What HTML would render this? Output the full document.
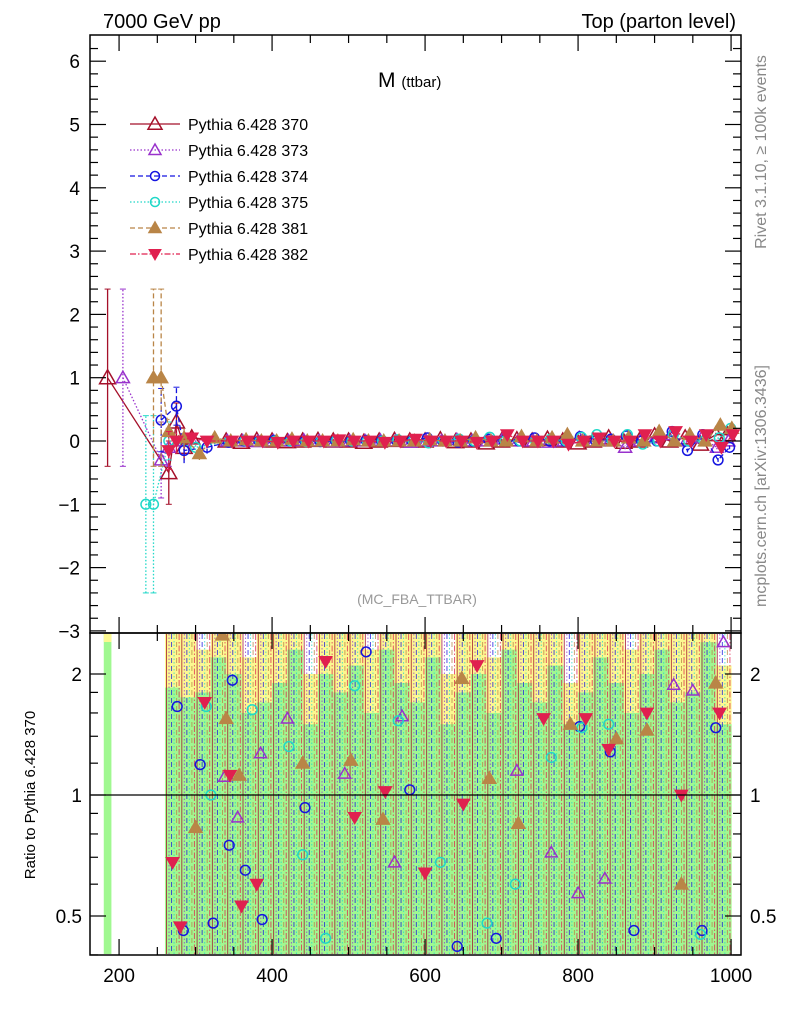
<!DOCTYPE html>
<html><head><meta charset="utf-8"><style>
body{margin:0;background:#fff;}
svg{display:block;font-family:"Liberation Sans",sans-serif;}
</style></head><body>
<svg id="chart" width="786" height="1024" viewBox="0 0 786 1024">
<defs>
<clipPath id="cm"><rect x="91" y="36" width="649" height="596"/></clipPath>
<clipPath id="cr"><rect x="91" y="634" width="649" height="320"/></clipPath>
</defs>
<g id="bands" clip-path="url(#cr)"></g>
<g id="rlines" clip-path="url(#cr)"></g>
<g id="rmarks" clip-path="url(#cr)"></g>
<g id="mmarks" clip-path="url(#cm)"></g>
<line x1="91" y1="795" x2="740" y2="795" stroke="#000" stroke-width="1.2"/>
<rect x="90" y="35" width="651" height="598" fill="none" stroke="#000" stroke-width="1.5"/>
<rect x="90" y="633" width="651" height="322" fill="none" stroke="#000" stroke-width="1.5"/>
<g id="axes"></g>
<text x="103" y="28" font-size="20">7000 GeV pp</text>
<text x="736" y="28" font-size="20" text-anchor="end">Top (parton level)</text>
<text x="378" y="87" font-size="21">M <tspan font-size="15">(ttbar)</tspan></text>
<text x="417" y="604" font-size="14" fill="#999" text-anchor="middle">(MC_FBA_TTBAR)</text>
<text transform="translate(766,152) rotate(-90)" font-size="16" fill="#888" text-anchor="middle">Rivet 3.1.10, ≥ 100k events</text>
<text transform="translate(766,486) rotate(-90)" font-size="16" fill="#888" text-anchor="middle">mcplots.cern.ch [arXiv:1306.3436]</text>
<text transform="translate(35,795) rotate(-90)" font-size="15" text-anchor="middle">Ratio to Pythia 6.428 370</text>
<g id="legend"></g>
</svg>
<script>
const NS="http://www.w3.org/2000/svg";
// ---- data ----
const seriesNames=["Pythia 6.428 370","Pythia 6.428 373","Pythia 6.428 374","Pythia 6.428 375","Pythia 6.428 381","Pythia 6.428 382"];
const earlyX370=[185,265,275,285,295];
const earlyY370=[1.0,-0.5,0.3,-0.1,0.05];
const earlyE370=[1.4,0.5,0.3,0.2,0.1];
const earlyX373=[205,255,265,285];
const earlyY373=[1.0,-0.3,-0.1,0.0];
const earlyE373=[1.4,0.6,0.3,0.2];
const earlyX374=[255,275,285,315];
const earlyY374=[0.33,0.55,-0.15,-0.1];
const earlyE374=[0.5,0.3,0.2,0.1];
const earlyX375=[235,245,265,300];
const earlyY375=[-1.0,-1.0,0.0,-0.1];
const earlyE375=[1.4,1.4,0.3,0.1];
const earlyX381=[245,255,265,285,305,325];
const earlyY381=[1.0,1.0,0.15,0.05,-0.2,0.05];
const earlyE381=[1.4,1.4,0.2,0.15,0.1,0.05];
const earlyX382=[265,275,295,315];
const earlyY382=[-0.15,0.0,0.05,0.0];
const earlyE382=[0.3,0.2,0.1,0.05];
const flatX=[340,360,380,400,420,440,460,480,500,520,540,560,580,600,620,640,660,680,700,720,740,760,780,800,820,840,860,880,900,920,940,960,980,995];
const flat370=[0.0,-0.02,0.01,0.0,-0.01,0.0,0.01,0.0,0.0,-0.02,0.0,0.01,0.0,0.0,0.02,-0.01,0.0,-0.03,0.0,0.02,0.0,0.03,0.0,-0.03,0.0,0.05,-0.02,0.0,0.08,0.0,0.05,-0.05,0.1,0.1];
const flat373=[0.0,0.0,-0.01,0.0,0.0,0.01,0.0,-0.01,0.0,0.0,0.01,0.0,-0.02,0.0,0.0,0.02,0.0,0.0,0.03,0.0,0.0,-0.02,0.0,0.05,0.0,0.0,-0.1,0.0,0.05,0.1,0.0,0.05,-0.1,0.0];
const flat374=[-0.02,0.0,0.0,0.01,0.0,0.0,-0.01,0.0,0.0,0.01,0.0,0.0,0.0,0.05,0.0,-0.02,0.0,0.03,0.0,0.0,0.05,0.0,0.0,0.07,0.0,0.03,0.08,0.0,0.0,0.15,-0.15,0.1,-0.3,-0.1];
const flat375=[0.0,0.01,0.0,0.0,0.0,-0.01,0.0,0.01,0.0,0.0,0.0,0.02,0.0,-0.03,0.0,0.03,0.0,0.06,0.0,0.0,0.0,0.03,0.0,0.06,0.1,0.0,0.1,-0.05,0.0,0.1,0.0,0.0,0.05,0.2];
const flat381=[0.0,0.02,0.0,0.0,0.03,0.0,0.0,0.0,0.02,0.0,0.0,0.0,0.0,0.02,0.0,0.0,0.05,0.0,0.0,0.07,0.0,0.05,0.1,0.0,0.0,0.0,0.05,0.0,0.15,0.0,0.1,0.0,0.25,0.2];
const flat382=[0.0,0.0,0.0,-0.02,0.0,0.0,0.0,0.02,0.0,0.0,-0.02,0.0,0.03,0.0,0.0,0.0,-0.02,0.0,0.1,0.0,0.0,0.0,-0.05,0.0,0.05,0.0,0.0,0.1,0.0,0.15,0.0,0.1,-0.1,0.1];
// ratio markers
const rX373=[338,355,385,420,495,560,570,720,765,800,835,925,950,990];
const rV373=[1.11,0.88,1.27,1.55,1.13,0.68,1.57,1.15,0.72,0.57,0.62,1.88,1.82,2.4];
const rX374=[276,284,306,323,344,348,365,387,443,523,580,642,693,802,842,873,962,980];
const rV374=[1.66,0.46,1.19,0.48,0.75,1.93,0.65,0.49,0.93,2.27,1.03,0.42,0.44,1.48,1.28,0.46,0.46,1.47];
const rX375=[314,320,374,422,440,470,508,565,620,681,718,765,805,840,960];
const rV375=[1.66,1.0,1.63,1.32,0.71,0.44,1.87,1.53,0.68,0.48,0.6,1.24,1.47,1.5,0.45];
const rX381=[300,335,357,340,440,503,545,648,684,722,790,850,890,935,980];
const rV381=[0.83,2.5,1.12,1.55,1.2,1.22,0.87,1.95,1.1,0.85,1.5,1.38,1.45,0.6,1.9];
const rX382=[270,280,312,345,360,380,470,508,548,600,650,668,755,810,840,890,935,985];
const rV382=[0.68,0.47,1.7,1.12,0.53,0.6,2.15,0.88,1.02,0.64,0.95,2.1,1.55,1.55,1.3,1.6,1.0,1.6];
// ratio band (reference uncertainty), 20 GeV bins starting 260
const bandStart=260;
const greenTop=[1.85,1.75,1.8,2.2,2.0,1.6,1.7,1.9,2.3,1.5,2.0,1.8,2.1,1.6,2.3,1.9,1.7,2.2,1.5,1.8,2.0,1.6,2.3,1.9,1.7,2.1,1.5,1.8,2.2,1.9,1.6,2.0,2.3,1.7,1.8,2.4,1.5];
const yellowTop=[2.6,2.6,2.3,2.6,2.6,2.2,2.6,2.6,2.6,2.0,2.6,2.6,2.6,2.3,2.6,2.6,2.6,2.6,2.0,2.6,2.6,2.2,2.6,2.6,2.6,2.6,1.9,2.6,2.6,2.6,2.3,2.6,2.6,2.6,2.6,2.6,2.1];
// ---- scales ----
const X=v=>90+(v-162)*0.765;
const Y=v=>441-v*63.3;
const R=v=>795-121*Math.log2(v);
const col=["#a5102a","#9932cc","#1515e0","#20d8c8","#b98547","#e0204f"];
const dash=["","1.5,2","5,3","1.5,2","5,3","6,2,1.5,2"];
const mk=["otri","otri","ocirc","ocirc","ftri","fdtri"];
function el(t,a,p){const e=document.createElementNS(NS,t);for(const k in a)e.setAttribute(k,a[k]);p.appendChild(e);return e;}
function marker(g,type,x,y,c,s){
  if(type=="otri"||type=="ftri"){return el("polygon",{points:`${x},${y-s} ${x-s},${y+s*0.75} ${x+s},${y+s*0.75}`,fill:type=="ftri"?c:"none",stroke:c,"stroke-width":1.5},g);}
  if(type=="fdtri"){return el("polygon",{points:`${x},${y+s} ${x-s},${y-s*0.75} ${x+s},${y-s*0.75}`,fill:c,stroke:c,"stroke-width":1},g);}
  return el("circle",{cx:x,cy:y,r:s*0.75,fill:"none",stroke:c,"stroke-width":1.5},g);
}
// bands
const gb=document.getElementById("bands");
let b=el("rect",{x:X(180),y:634,width:X(190)-X(180),height:320,fill:"#a0f890"},gb);

for(let i=0;i<greenTop.length;i++){
  const x0=X(bandStart+20*i),w=X(bandStart+20*(i+1))-x0;
  let y=el("rect",{x:x0,y:R(yellowTop[i]),width:w+0.5,height:955-R(yellowTop[i]),fill:"#fcf890"},gb);
  
  let g=el("rect",{x:x0,y:R(greenTop[i]),width:w+0.5,height:955-R(greenTop[i]),fill:"#a0f890"},gb);
  
}
el("rect",{x:X(180),y:634,width:X(190)-X(180),height:8,fill:"#fcf890"},gb);
// ratio vertical lines
const gl=document.getElementById("rlines");
for(let s=0;s<6;s++){
  for(let v=262+s*3.3;v<1000;v+=20){
    let l=el("line",{x1:X(v),x2:X(v),y1:634,y2:955,stroke:col[s],"stroke-width":1,"stroke-dasharray":dash[s]||"none",opacity:0.75},gl);
    
  }
}
const gr=document.getElementById("rmarks");
const rx=[null,rX373,rX374,rX375,rX381,rX382],rv=[null,rV373,rV374,rV375,rV381,rV382];
for(let s=1;s<6;s++)for(let i=0;i<rx[s].length;i++){
  let m=marker(gr,mk[s],X(rx[s][i]),R(rv[s][i]),col[s],s==1?6:6.5);
  
}
// main
const gm=document.getElementById("mmarks");
const ex=[earlyX370,earlyX373,earlyX374,earlyX375,earlyX381,earlyX382];
const ey=[earlyY370,earlyY373,earlyY374,earlyY375,earlyY381,earlyY382];
const ee=[earlyE370,earlyE373,earlyE374,earlyE375,earlyE381,earlyE382];
const fl=[flat370,flat373,flat374,flat375,flat381,flat382];
for(let s=0;s<6;s++){
  const xs=ex[s].concat(flatX.map(v=>v+s*1.5)),ys=ey[s].concat(fl[s]),es=ee[s].concat(flatX.map(()=>0.03));
  let p=el("polyline",{points:xs.map((v,i)=>X(v)+","+Y(ys[i])).join(" "),fill:"none",stroke:col[s],"stroke-width":1.3,"stroke-dasharray":dash[s]||"none"},gm);
  
  for(let i=0;i<xs.length;i++){
    const x=X(xs[i]);
    let e=el("line",{x1:x,x2:x,y1:Y(ys[i]-es[i]),y2:Y(ys[i]+es[i]),stroke:col[s],"stroke-width":1.3,"stroke-dasharray":dash[s]||"none"},gm);
    
    if(es[i]>0.2){el("line",{x1:x-3,x2:x+3,y1:Y(ys[i]-es[i]),y2:Y(ys[i]-es[i]),stroke:col[s]},gm);el("line",{x1:x-3,x2:x+3,y1:Y(ys[i]+es[i]),y2:Y(ys[i]+es[i]),stroke:col[s]},gm);}
    let m=marker(gm,mk[s],x,Y(ys[i]),col[s],s==0?8:6.5);
    
  }
}
// legend
const lg=document.getElementById("legend");
for(let s=0;s<6;s++){
  const y=124+s*26;
  el("line",{x1:130,x2:180,y1:y,y2:y,stroke:col[s],"stroke-width":1.3,"stroke-dasharray":dash[s]||"none"},lg);
  marker(lg,mk[s],155,y,col[s],s==0?7:6);
  let t=el("text",{x:188,y:y+6,"font-size":16},lg);t.textContent=seriesNames[s];
  
}
// axes
const ga=document.getElementById("axes");
function ln(x1,y1,x2,y2){el("line",{x1,y1,x2,y2,stroke:"#000","stroke-width":1.2},ga);}
function tx(x,y,s,anchor){let t=el("text",{x,y,"font-size":19,"text-anchor":anchor},ga);t.textContent=s;return t;}
for(let v=-3;v<=6.4;v+=0.2){const y=Y(v);if(y<36||y>632)continue;const maj=Math.abs(v-Math.round(v))<1e-6;const L=maj?16:8;ln(90,y,90+L,y);ln(741,y,741-L,y);
  if(maj){tx(80,y+7,(Math.round(v)<0?"−":"")+Math.abs(Math.round(v)),"end");}}
for(let v=200;v<=1000;v+=50){const x=X(v);if(x<91||x>740)continue;const maj=v%200==0;const L=maj?16:8;
  ln(x,35,x,35+L);ln(x,633,x,633-L);ln(x,633,x,633+L);ln(x,955,x,955-L);
  if(maj){tx(x,982,String(v),"middle");}}
[0.4,0.5,0.6,0.7,0.8,0.9,1,2].forEach(v=>{const y=R(v);const maj=(v==0.5||v==1||v==2);const L=maj?16:8;ln(90,y,90+L,y);ln(741,y,741-L,y);
  if(maj){tx(82,y+7,String(v),"end");tx(750,y+7,String(v),"start");}});
[1.2,1.4,1.6,1.8].forEach(v=>{const y=R(v);ln(90,y,98,y);ln(741,y,733,y);});
</script>
</body></html>
